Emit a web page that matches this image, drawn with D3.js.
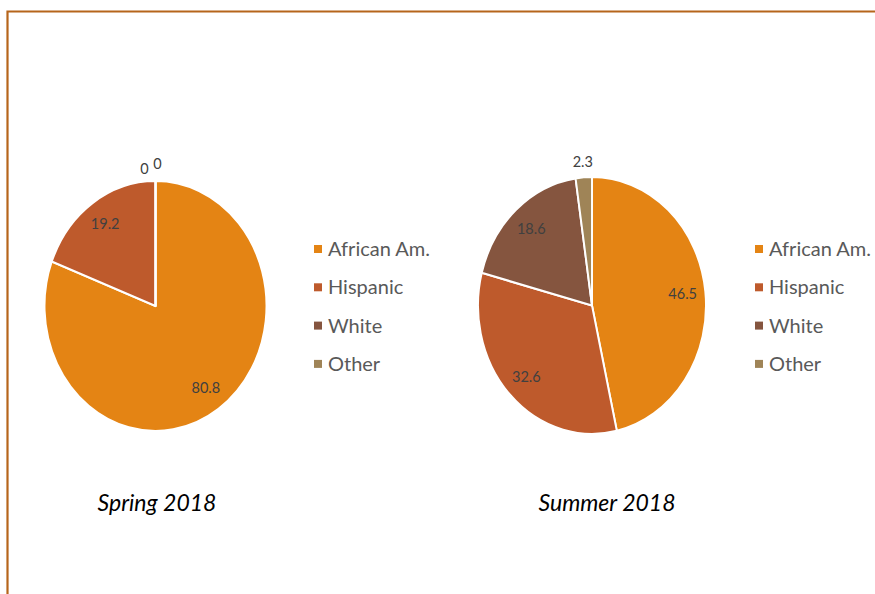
<!DOCTYPE html>
<html><head><meta charset="utf-8">
<script src="https://cdn.jsdelivr.net/npm/d3@7"></script>
<style>body{margin:0;background:#fff}svg{display:block}text{font-family:Lato,"Open Sans",sans-serif}</style>
</head><body><svg id="c" width="875" height="594"></svg>
<script>
const categories = ["African Am.", "Hispanic", "White", "Other"];
const colors = ["#E48414", "#BE5A2C", "#85553F", "#9F8457"];
const spring = [80.8, 19.2, 0, 0];
const summer = [46.5, 32.6, 18.6, 2.3];
const titles = ["Spring 2018", "Summer 2018"];

const svg = d3.select("#c");
svg.append("path").attr("d", "M875,11.5H7.5V594").attr("fill","none").attr("stroke","#B6651B").attr("stroke-width",2.2);

const charts = [
  {vals: spring, cx: 155.5, cy: 306, rx: 111, ry: 125, legX: 314, titleX: 157, titleY: 511},
  {vals: summer, cx: 592, cy: 305.5, rx: 114, ry: 128.5, legX: 755, titleX: 607, titleY: 511}
];

charts.forEach((c, ci) => {
  const pie = d3.pie().sort(null).value(d => d)(c.vals);
  const sx = c.rx / c.ry;
  const g = svg.append("g").attr("transform", `translate(${c.cx},${c.cy}) scale(${sx},1)`);
  const arc = d3.arc().innerRadius(0).outerRadius(c.ry);
  g.selectAll("path").data(pie).join("path")
    .attr("d", arc).attr("fill", (d,i) => colors[i])
    .attr("stroke", "#fff").attr("stroke-width", 2.2).attr("stroke-linejoin","round");
  const lg = svg.append("g").attr("transform", `translate(${c.cx},${c.cy})`);
  let zeroCount = 0;
  pie.forEach((d, i) => {
    const a = (d.startAngle + d.endAngle) / 2;
    const small = d.value < 5;
    const f = small ? 1.12 : 0.8;
    let x = Math.sin(a) * c.rx * f, y = -Math.cos(a) * c.ry * f;
    if (d.value === 0) { x += zeroCount === 0 ? -11 : 2; y += zeroCount === 0 ? 3 : -2; zeroCount++; }
    lg.append("text").attr("x", x).attr("y", y).attr("dy", "0.35em")
      .attr("text-anchor", "middle").attr("font-size", 14.5).attr("fill", "#404040")
      .text(d.value);
  });
  const leg = svg.append("g").attr("transform", `translate(${c.legX},0)`);
  categories.forEach((cat, i) => {
    const y = 249 + i * 38.3;
    leg.append("rect").attr("x", 0).attr("y", y - 4).attr("width", 8).attr("height", 8).attr("fill", colors[i]);
    leg.append("text").attr("x", 14).attr("y", y).attr("dy", "0.35em")
      .attr("font-size", 20).attr("fill", "#595959").text(cat);
  });
  svg.append("text").attr("x", c.titleX).attr("y", c.titleY).attr("text-anchor", "middle")
    .attr("font-size", 23).attr("font-style", "italic").attr("fill", "#000").text(titles[ci]);
});
</script></body></html>
